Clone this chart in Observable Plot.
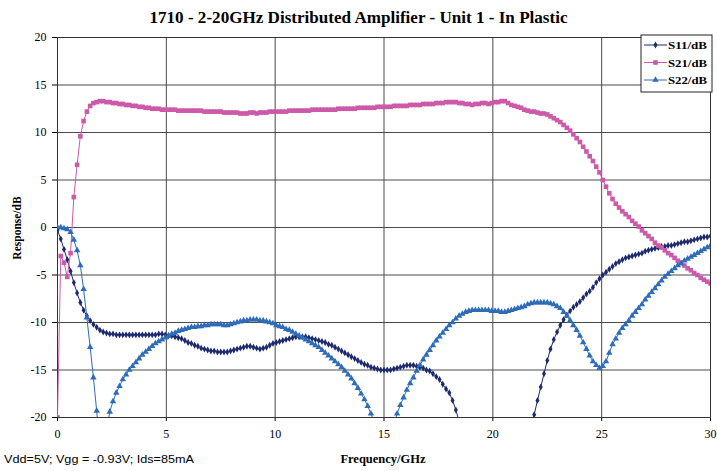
<!DOCTYPE html>
<html><head><meta charset="utf-8">
<script src="https://cdn.jsdelivr.net/npm/d3@7"></script>
<script src="https://cdn.jsdelivr.net/npm/@observablehq/plot@0.6"></script>
<style>body{margin:0;background:#fff}#chart svg{display:block}</style>
</head><body><div id="chart"></div>
<script>
const title = "1710 - 2-20GHz Distributed Amplifier - Unit 1 - In Plastic";
const xLabel = "Frequency/GHz";
const yLabel = "Response/dB";
const caption = "Vdd=5V; Vgg = -0.93V; Ids=85mA";
const seriesNames = ["S11/dB", "S21/dB", "S22/dB"];
const xTicks = [0, 5, 10, 15, 20, 25, 30];
const yTicks = [-20, -15, -10, -5, 0, 5, 10, 15, 20];

// measurement sweep: 201 points, 0 to 30 GHz
const sweepStartGHz = 0, sweepStepGHz = 0.15, sweepPoints = 201;

const s11 = [
-0.3,-1.2,-2.3,-3.4,-4.6,-5.8,-6.9,-7.9,-8.7,-9.3,
-9.8,-10.2,-10.5,-10.8,-11.0,-11.1,-11.2,-11.2,-11.3,-11.3,
-11.3,-11.3,-11.3,-11.3,-11.3,-11.3,-11.3,-11.3,-11.3,-11.3,
-11.3,-11.2,-11.2,-11.3,-11.4,-11.4,-11.5,-11.6,-11.7,-11.9,
-12.1,-12.2,-12.4,-12.5,-12.7,-12.8,-12.9,-13.0,-13.0,-13.1,
-13.1,-13.1,-13.1,-13.0,-12.9,-12.8,-12.7,-12.6,-12.5,-12.5,
-12.6,-12.7,-12.8,-12.7,-12.6,-12.4,-12.2,-12.1,-12.0,-11.9,
-11.8,-11.7,-11.6,-11.5,-11.5,-11.5,-11.5,-11.6,-11.7,-11.8,
-11.9,-12.0,-12.1,-12.3,-12.4,-12.6,-12.8,-13.0,-13.2,-13.4,
-13.6,-13.8,-14.0,-14.2,-14.4,-14.5,-14.7,-14.8,-14.9,-15.0,
-15.0,-15.0,-15.0,-14.9,-14.8,-14.7,-14.6,-14.5,-14.5,-14.5,
-14.6,-14.7,-14.8,-15.0,-15.1,-15.4,-15.7,-16.0,-16.5,-17.0,
-17.4,-18.2,-19.2,-20.4,-21.8,-23.3,-25.0,-27.0,-29.0,-31.0,
-33.0,-35.0,-37.0,-38.0,-38.0,-37.0,-35.0,-33.0,-31.0,-29.0,
-27.5,-26.0,-24.5,-23.2,-22.0,-20.8,-19.7,-18.2,-16.8,-15.4,
-14.0,-12.8,-11.8,-11.0,-10.3,-9.7,-9.2,-8.8,-8.4,-8.1,
-7.8,-7.4,-7.0,-6.7,-6.3,-5.8,-5.4,-5.0,-4.7,-4.4,
-4.1,-3.8,-3.6,-3.4,-3.2,-3.1,-3.0,-2.9,-2.8,-2.7,
-2.5,-2.4,-2.3,-2.2,-2.1,-2.0,-2.0,-1.9,-1.9,-1.8,
-1.7,-1.6,-1.5,-1.5,-1.4,-1.3,-1.2,-1.1,-1.0,-1.0,
-0.9];

const s21 = [
-20,-3.0,-3.7,-5.2,-2.7,3.2,6.6,9.6,11.2,12.2,
12.8,13.1,13.2,13.3,13.3,13.2,13.2,13.1,13.1,13.0,
13.0,12.9,12.9,12.8,12.8,12.7,12.7,12.6,12.6,12.5,
12.5,12.5,12.4,12.4,12.4,12.4,12.4,12.3,12.3,12.3,
12.3,12.3,12.3,12.3,12.3,12.2,12.2,12.2,12.2,12.2,
12.2,12.1,12.1,12.1,12.1,12.1,12.0,12.0,12.0,12.1,
12.1,12.0,12.1,12.1,12.1,12.2,12.2,12.2,12.2,12.2,
12.2,12.3,12.3,12.3,12.3,12.3,12.3,12.3,12.4,12.4,
12.4,12.4,12.4,12.4,12.4,12.4,12.5,12.5,12.5,12.5,
12.5,12.5,12.6,12.6,12.6,12.6,12.6,12.6,12.7,12.7,
12.7,12.7,12.7,12.8,12.8,12.8,12.8,12.8,12.9,12.9,
12.9,12.9,13.0,13.0,13.0,13.0,13.1,13.1,13.1,13.2,
13.2,13.2,13.2,13.1,13.1,13.0,13.0,12.9,13.0,13.0,
13.1,13.1,13.0,13.1,13.2,13.2,13.3,13.3,13.1,12.9,
12.8,12.7,12.6,12.4,12.3,12.2,12.2,12.1,12.0,12.0,
11.9,11.7,11.5,11.3,11.1,10.8,10.5,10.2,9.8,9.4,
9.0,8.5,8.0,7.5,7.0,6.4,5.8,5.0,4.3,3.6,
3.0,2.5,2.1,1.7,1.4,1.1,0.7,0.4,0.1,-0.3,
-0.6,-0.9,-1.2,-1.6,-1.9,-2.1,-2.4,-2.7,-2.9,-3.2,
-3.5,-3.7,-4.0,-4.3,-4.5,-4.8,-5.0,-5.3,-5.5,-5.7,
-5.9];

const s22 = [
0.0,0.0,-0.1,-0.2,-0.5,-1.3,-2.4,-4.0,-6.5,-9.5,
-12.6,-15.8,-19.3,-23.5,-25.5,-21.5,-19.4,-18.3,-17.4,-16.7,
-16.0,-15.5,-15.0,-14.6,-14.2,-13.8,-13.4,-13.1,-12.8,-12.5,
-12.2,-12.0,-11.8,-11.6,-11.4,-11.2,-11.1,-10.9,-10.8,-10.7,
-10.6,-10.5,-10.5,-10.4,-10.4,-10.3,-10.3,-10.2,-10.2,-10.2,
-10.2,-10.3,-10.3,-10.2,-10.1,-10.0,-9.9,-9.8,-9.8,-9.7,
-9.7,-9.7,-9.8,-9.8,-9.9,-10.0,-10.1,-10.3,-10.4,-10.5,
-10.7,-10.8,-11.0,-11.2,-11.4,-11.6,-11.8,-12.0,-12.2,-12.4,
-12.6,-12.9,-13.2,-13.5,-13.8,-14.1,-14.4,-14.7,-15.1,-15.5,
-15.9,-16.4,-16.9,-17.5,-18.1,-18.8,-19.6,-20.5,-21.6,-23.0,
-25.0,-24.0,-22.3,-20.8,-19.6,-18.7,-17.9,-17.1,-16.4,-15.8,
-15.1,-14.5,-13.9,-13.4,-12.9,-12.4,-11.9,-11.5,-11.1,-10.7,
-10.3,-10.0,-9.6,-9.3,-9.1,-8.9,-8.8,-8.7,-8.7,-8.7,
-8.7,-8.7,-8.7,-8.8,-8.8,-8.8,-8.9,-8.9,-8.8,-8.7,
-8.6,-8.5,-8.4,-8.3,-8.1,-8.0,-7.9,-7.9,-7.9,-7.9,
-7.9,-8.0,-8.1,-8.3,-8.5,-8.9,-9.3,-9.8,-10.3,-10.8,
-11.4,-12.1,-12.8,-13.5,-14.1,-14.5,-14.8,-14.6,-14.1,-13.2,
-12.3,-11.7,-11.1,-10.6,-10.2,-9.8,-9.3,-8.9,-8.5,-8.1,
-7.6,-7.2,-6.8,-6.4,-6.0,-5.6,-5.2,-4.9,-4.6,-4.3,
-4.0,-3.8,-3.5,-3.3,-3.1,-2.9,-2.7,-2.5,-2.3,-2.1,
-1.9];

const freq = Array.from({length: sweepPoints}, (_, i) => +(sweepStartGHz + i * sweepStepGHz).toFixed(3));

const seriesColors = ["#1e2a6e", "#cc5aa8", "#2e6cb8"];
const seriesSymbols = ["diamond", "square", "triangle"];
const seriesR = [2.1, 2.6, 2.4];
const seriesValues = [s11, s21, s22];

const marks = [
  Plot.ruleX(xTicks, {stroke: "#4a4a4a", strokeWidth: 1}),
  Plot.ruleY(yTicks, {stroke: "#4a4a4a", strokeWidth: 1}),
  Plot.frame({stroke: "#333"})
];
seriesNames.forEach((name, k) => {
  const data = seriesValues[k].map((v, i) => ({f: freq[i], db: v}));
  marks.push(Plot.line(data, {x: "f", y: "db", stroke: seriesColors[k], strokeWidth: 1, clip: true}));
  marks.push(Plot.dot(data, {x: "f", y: "db", symbol: seriesSymbols[k], fill: seriesColors[k], r: seriesR[k], clip: true}));
});

const plot = Plot.plot({
  width: 717, height: 471,
  marginTop: 37, marginRight: 7, marginBottom: 54, marginLeft: 57,
  style: {fontFamily: "'Liberation Serif','Times New Roman',serif", fontSize: "12px", background: "#fff", color: "#000", overflow: "visible"},
  x: {domain: [0, 30], ticks: xTicks, tickFormat: d => String(d), label: null, tickSize: 4, tickPadding: 8},
  y: {domain: [-20, 20], ticks: yTicks, tickFormat: d => String(d), label: null, tickSize: 5, tickPadding: 6},
  marks
});
document.getElementById("chart").appendChild(plot);

const svg = d3.select(plot);
svg.append("text").attr("x", 358.5).attr("y", 23).attr("text-anchor", "middle")
  .attr("font-family", "'Liberation Serif',serif").attr("font-weight", "bold").attr("font-size", 16)
  .attr("textLength", 418).attr("lengthAdjust", "spacingAndGlyphs").text(title);
svg.append("text").attr("transform", "translate(21,228) rotate(-90)").attr("text-anchor", "middle")
  .attr("font-family", "'Liberation Serif',serif").attr("font-weight", "bold").attr("font-size", 11.5).text(yLabel);
svg.append("text").attr("x", 383).attr("y", 463).attr("text-anchor", "middle")
  .attr("font-family", "'Liberation Serif',serif").attr("font-weight", "bold").attr("font-size", 12.5).text(xLabel);
svg.append("text").attr("x", 4).attr("y", 463).attr("text-anchor", "start")
  .attr("font-family", "'Liberation Sans',Arial,sans-serif").attr("font-size", 10)
  .attr("textLength", 190).attr("lengthAdjust", "spacingAndGlyphs").text(caption);

// legend
const lg = svg.append("g");
lg.append("rect").attr("x", 641).attr("y", 35).attr("width", 71).attr("height", 57)
  .attr("fill", "#fff").attr("stroke", "#222").attr("stroke-width", 1);
const symMap = {diamond: d3.symbolDiamond, square: d3.symbolSquare, triangle: d3.symbolTriangle};
seriesNames.forEach((name, k) => {
  const yy = 45 + k * 17.5;
  lg.append("line").attr("x1", 644).attr("x2", 667).attr("y1", yy).attr("y2", yy)
    .attr("stroke", seriesColors[k]).attr("stroke-width", 1);
  lg.append("path").attr("transform", `translate(655.5,${yy})`)
    .attr("d", d3.symbol(symMap[seriesSymbols[k]], Math.PI * seriesR[k] * seriesR[k])())
    .attr("fill", seriesColors[k]);
  lg.append("text").attr("x", 668).attr("y", yy + 4).attr("text-anchor", "start")
    .attr("font-family", "'Liberation Serif',serif").attr("font-weight", "bold").attr("font-size", 11)
    .attr("textLength", 39).attr("lengthAdjust", "spacingAndGlyphs").text(name);
});
</script>
</body></html>
